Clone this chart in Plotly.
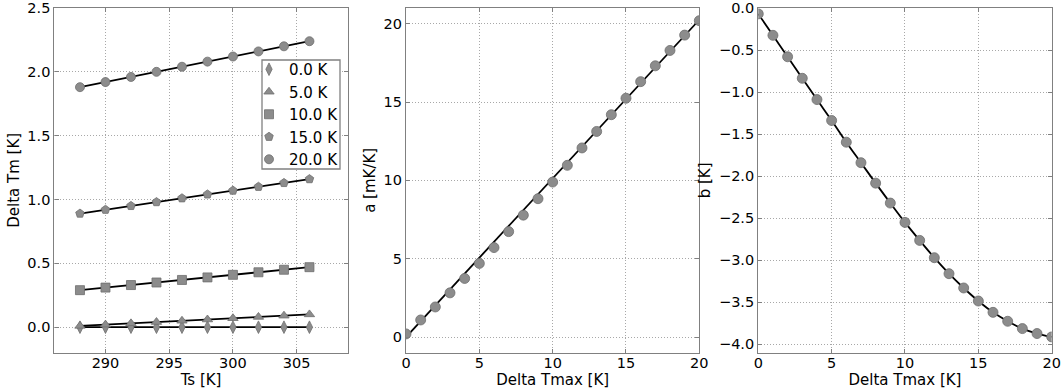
import plotly.graph_objects as go

# ---- Panel 1 data ----
ts = [288, 290, 292, 294, 296, 298, 300, 302, 304, 306]
dtm_0 = [0.0, 0.0, 0.0, 0.0, 0.0, 0.0, 0.0, 0.0, 0.0, 0.0]
dtm_5 = [0.01, 0.02, 0.03, 0.04, 0.05, 0.06, 0.07, 0.08, 0.09, 0.10]
dtm_10 = [0.29, 0.31, 0.33, 0.35, 0.37, 0.39, 0.41, 0.43, 0.45, 0.47]
dtm_15 = [0.89, 0.92, 0.95, 0.98, 1.01, 1.04, 1.07, 1.10, 1.13, 1.16]
dtm_20 = [1.88, 1.92, 1.96, 2.00, 2.04, 2.08, 2.12, 2.16, 2.20, 2.24]
series_names = ["0.0 K", "5.0 K", "10.0 K", "15.0 K", "20.0 K"]

# ---- Panel 2 / 3 data ----
dtmax = list(range(0, 21))
a_vals = [0.2, 1.09, 1.92, 2.82, 3.74, 4.70, 5.71, 6.73, 7.78, 8.83, 9.89,
          10.96, 12.07, 13.12, 14.19, 15.24, 16.30, 17.31, 18.29, 19.27, 20.19]
a_fit_x = [0, 20]
a_fit_y = [0.0, 20.25]
b_vals = [-0.07, -0.325, -0.58, -0.836, -1.089, -1.338, -1.596, -1.84, -2.083,
          -2.32, -2.55, -2.764, -2.97, -3.16, -3.33, -3.485, -3.62, -3.726,
          -3.813, -3.872, -3.912]

MARKER_FILL = "#8c8c8c"
MARKER_EDGE = "#6e6e6e"
FRAME = "#808080"
GRID = "#a8a8a8"
FONT = "DejaVu Sans"

fig = go.Figure()

symbols = ["diamond-tall", "triangle-up", "square", "pentagon", "circle"]
all_series = [dtm_0, dtm_5, dtm_10, dtm_15, dtm_20]

for ys in all_series:
    fig.add_trace(go.Scatter(x=ts, y=ys, mode="lines",
                             line=dict(color="black", width=1.8),
                             showlegend=False, xaxis="x", yaxis="y",
                             hoverinfo="skip"))
for name, ys, sym in zip(series_names, all_series, symbols):
    fig.add_trace(go.Scatter(x=ts, y=ys, mode="markers", name=name,
                             marker=dict(symbol=sym, size=9, color=MARKER_FILL,
                                         line=dict(color=MARKER_EDGE, width=0.8)),
                             xaxis="x", yaxis="y"))

# Panel 2
fig.add_trace(go.Scatter(x=a_fit_x, y=a_fit_y, mode="lines",
                         line=dict(color="black", width=1.8),
                         showlegend=False, xaxis="x2", yaxis="y2"))
fig.add_trace(go.Scatter(x=dtmax, y=a_vals, mode="markers",
                         marker=dict(symbol="circle", size=10, color=MARKER_FILL,
                                     line=dict(color=MARKER_EDGE, width=0.8)),
                         showlegend=False, xaxis="x2", yaxis="y2"))

# Panel 3
fig.add_trace(go.Scatter(x=dtmax, y=b_vals, mode="lines", line_shape="spline",
                         line=dict(color="black", width=1.8),
                         showlegend=False, xaxis="x3", yaxis="y3"))
fig.add_trace(go.Scatter(x=dtmax, y=b_vals, mode="markers",
                         marker=dict(symbol="circle", size=10, color=MARKER_FILL,
                                     line=dict(color=MARKER_EDGE, width=0.8)),
                         showlegend=False, xaxis="x3", yaxis="y3"))

ydom = [0.0956, 0.9795]
TICKSIZE = 14.5
TITLESIZE = 15

def axis_common():
    return dict(showline=True, linecolor=FRAME, linewidth=1.3, mirror="ticks",
                ticks="inside", ticklen=4, tickcolor=FRAME,
                showgrid=True, gridcolor=GRID, griddash="1px,2px", gridwidth=1,
                zeroline=False, automargin=False, ticklabeloverflow="allow",
                tickfont=dict(family=FONT, size=TICKSIZE, color="black"),
                title_font=dict(family=FONT, size=TITLESIZE, color="black"))

def xaxis_common():
    d = axis_common()
    d["ticklabelstandoff"] = -3
    return d

W, H = 1062, 390
# legend frame (paper coordinates)
fig.add_shape(type="rect", xref="paper", yref="paper",
              x0=262 / W, x1=340 / W, y0=(H - 169) / H, y1=(H - 60) / H,
              line=dict(color=FRAME, width=1.3), fillcolor="white", layer="above")

fig.update_layout(
    width=W, height=H,
    margin=dict(l=0, r=0, t=0, b=0),
    paper_bgcolor="white", plot_bgcolor="white",
    font=dict(family=FONT, size=TICKSIZE, color="black"),
    xaxis=dict(domain=[0.0513, 0.3274], range=[286, 309], dtick=5, tick0=290,
               title=dict(text="Ts [K]", standoff=0), anchor="y", **xaxis_common()),
    yaxis=dict(domain=ydom, range=[-0.2, 2.5001], dtick=0.5, tick0=0, tickformat=".1f",
               title=dict(text="Delta Tm [K]", standoff=4), anchor="x", **axis_common()),
    xaxis2=dict(domain=[0.3823, 0.6585], range=[0, 20], dtick=5, tick0=0,
                title=dict(text="Delta Tmax [K]", standoff=0), anchor="y2", **xaxis_common()),
    yaxis2=dict(domain=ydom, range=[-1, 21], dtick=5, tick0=0,
                title=dict(text="a [mK/K]", standoff=4), anchor="x2", **axis_common()),
    xaxis3=dict(domain=[0.714, 0.9903], range=[0, 20], dtick=5, tick0=0,
                title=dict(text="Delta Tmax [K]", standoff=0), anchor="y3", **xaxis_common()),
    yaxis3=dict(domain=ydom, range=[-4.1, 0.0001], dtick=0.5, tick0=0, tickformat=".1f",
                title=dict(text="b [K]", standoff=4), anchor="x3", **axis_common()),
    legend=dict(x=249 / W, y=(H - 53) / H, xanchor="left", yanchor="top",
                bgcolor="rgba(0,0,0,0)", borderwidth=0,
                font=dict(family=FONT, size=TITLESIZE, color="black"),
                itemwidth=30, tracegroupgap=0),
    showlegend=True,
)

fig.write_html("out.html", config={"displayModeBar": False},
               post_script="document.body.style.margin='0px';document.body.style.overflow='hidden';")
